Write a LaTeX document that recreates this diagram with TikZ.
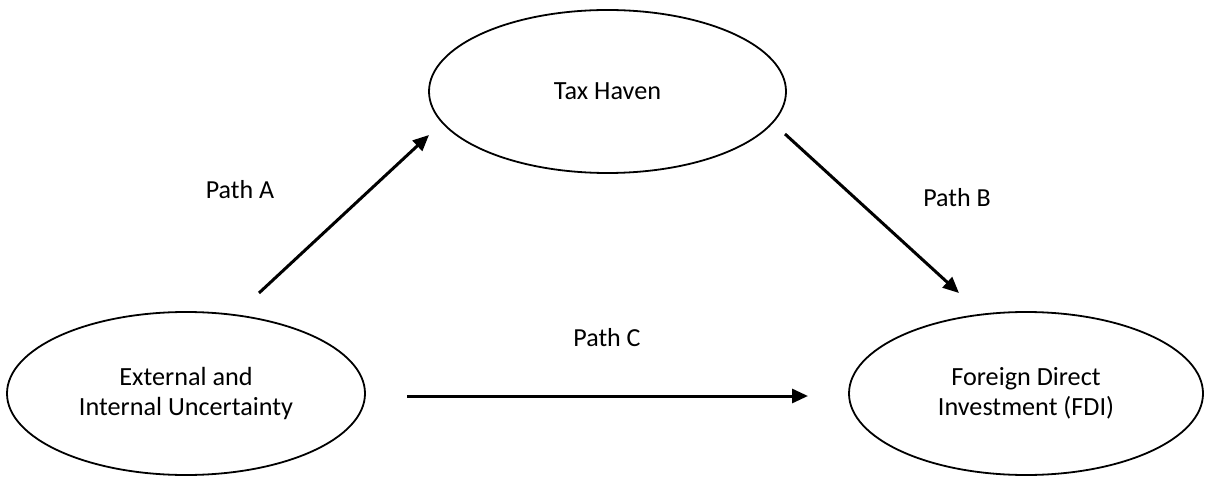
\documentclass[tikz,border=0pt]{standalone}
\usepackage{fontspec}
\setmainfont{Carlito}
\usetikzlibrary{shapes.geometric,arrows.meta}
\begin{document}
\begin{tikzpicture}[x=1pt,y=1pt,
  oval/.style={draw=black, line width=1.8pt, ellipse, inner sep=0pt, align=center,
    font=\fontsize{26.2}{30}\selectfont},
  lbl/.style={font=\fontsize{26}{30}\selectfont},
  conn/.style={line width=3pt, -{Triangle[length=16pt,width=14pt]}}]
\useasboundingbox (0,0) rectangle (1206,477);
\node[oval, minimum width=357pt, minimum height=163pt] (tax) at (607.5,385.5) {Tax Haven};
\node[oval, minimum width=358pt, minimum height=163pt] (ext) at (186,83.5) {External and\\Internal Uncertainty};
\node[oval, minimum width=354pt, minimum height=163pt] (fdi) at (1026,83.5) {Foreign Direct\\Investment (FDI)};
\coordinate (a1) at (259,184);
\coordinate (a2) at (429,342);
\coordinate (b1) at (785,343);
\coordinate (b2) at (959,184);
\coordinate (c1) at (407,81);
\coordinate (c2) at (808,81);
\draw[conn] (a1) -- (a2);
\draw[conn] (b1) -- (b2);
\draw[conn] (c1) -- (c2);
\node[lbl] (pa) at (240,287) {Path A};
\node[lbl] (pb) at (957,279) {Path B};
\node[lbl] (pc) at (607,139) {Path C};
\end{tikzpicture}
\end{document}
